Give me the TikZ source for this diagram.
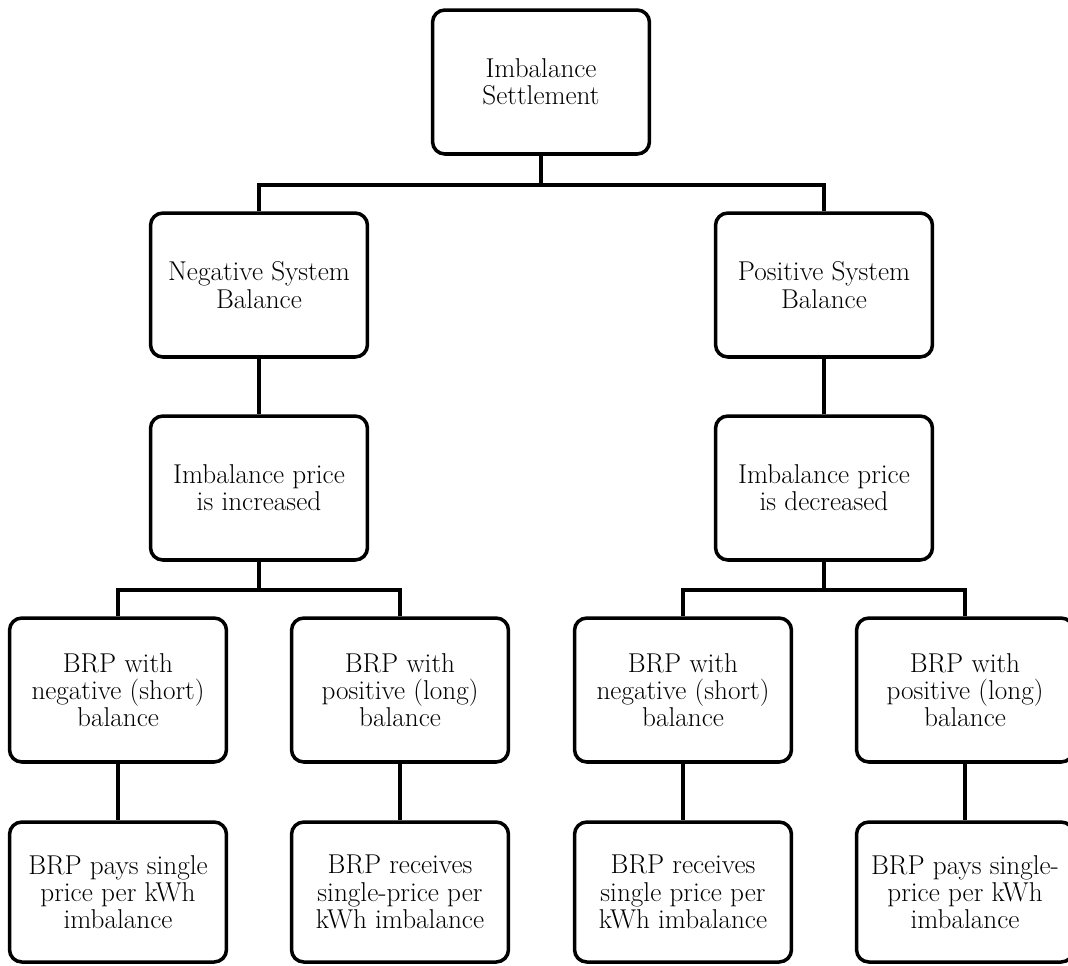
\documentclass[tikz,border=0pt]{standalone}
\usepackage{tikz}

\begin{document}
\begin{tikzpicture}[x=0.02cm, y=-0.02cm,
  blk/.style={rectangle, rounded corners=7pt, draw, line width=2pt,
              minimum width=4.34cm, minimum height=2.88cm, inner sep=2pt,
              align=center, font=\fontsize{15.5}{15.5}\selectfont},
  lowblk/.style={blk, minimum height=2.8cm},
  lk/.style={-, line width=2pt}]

\useasboundingbox (0,0) rectangle (1068,965);

%% Top: settlement and the two system balance cases
\node[blk] (root) at (541,82)  {Imbalance\\Settlement};
\node[blk] (neg)  at (259,285) {Negative System\\Balance};
\node[blk] (pos)  at (824,285) {Positive System\\Balance};
\draw[lk] (root.south) -- ++(0,29) -| (neg.north);
\draw[lk] (root.south) -- ++(0,29) -| (pos.north);

%% Price change
\node[blk] (inc) at (259,488) {Imbalance price\\is increased};
\node[blk] (dec) at (824,488) {Imbalance price\\is decreased};
\draw[lk] (neg)--(inc); \draw[lk] (pos)--(dec);

%% BRP positions
\node[blk] (nshort) at (118,690) {BRP with\\negative (short)\\balance};
\node[blk] (nlong)  at (400,690) {BRP with\\positive (long)\\balance};
\node[blk] (pshort) at (683,690) {BRP with\\negative (short)\\balance};
\node[blk] (plong)  at (965,690) {BRP with\\positive (long)\\balance};
\draw[lk] (inc.south) -- ++(0,28) -| (nshort.north);
\draw[lk] (inc.south) -- ++(0,28) -| (nlong.north);
\draw[lk] (dec.south) -- ++(0,28) -| (pshort.north);
\draw[lk] (dec.south) -- ++(0,28) -| (plong.north);

%% Payments
\node[lowblk] (npay) at (118,892) {BRP pays single\\price per kWh\\imbalance};
\node[lowblk] (nrec) at (400,892) {BRP receives\\single-price per\\kWh imbalance};
\node[lowblk] (prec) at (683,892) {BRP receives\\single price per\\kWh imbalance};
\node[lowblk] (ppay) at (965,892) {BRP pays single-\\price per kWh\\imbalance};
\draw[lk] (nshort)--(npay); \draw[lk] (nlong)--(nrec);
\draw[lk] (pshort)--(prec); \draw[lk] (plong)--(ppay);
\end{tikzpicture}
\end{document}
